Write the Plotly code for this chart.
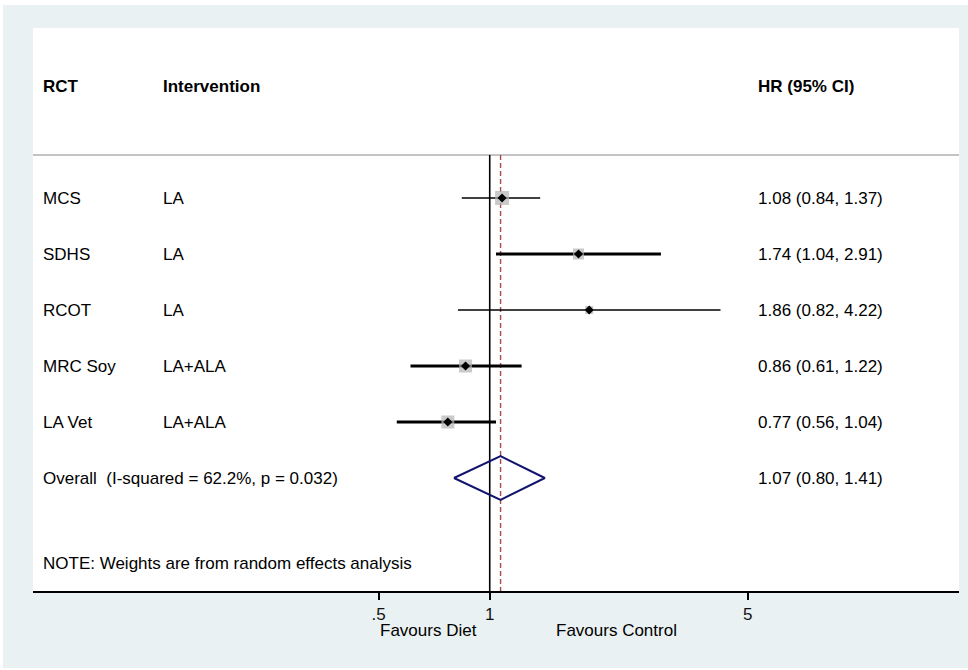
import plotly.graph_objects as go

# ---- study data -------------------------------------------------------
studies = ["MCS", "SDHS", "RCOT", "MRC Soy", "LA Vet"]
interventions = ["LA", "LA", "LA", "LA+ALA", "LA+ALA"]
hr = [1.08, 1.74, 1.86, 0.86, 0.77]
ci_lo = [0.84, 1.04, 0.82, 0.61, 0.56]
ci_hi = [1.37, 2.91, 4.22, 1.22, 1.04]

overall_label = "Overall\u00a0 (I-squared = 62.2%, p = 0.032)"
overall_hr = 1.07
overall_lo = 0.80
overall_hi = 1.41

note_text = "NOTE: Weights are from random effects analysis"
header_labels = ["RCT", "Intervention", "HR (95% CI)"]
tick_vals = [0.5, 1, 5]
tick_text = [".5", "1", "5"]
favour_labels = ["Favours Diet", "Favours Control"]

# ---- styling ----------------------------------------------------------
FONT = "Liberation Sans, Arial, Helvetica, sans-serif"
FS = 17
BG = "#eaf1f3"
box_px = [14, 11, 8, 13, 13]          # weight boxes (pixels)
ci_width = [1.6, 3.2, 1.6, 3.2, 3.2]   # CI line widths
NAVY = "#14146e"
DASH_COL = "#a64a4f"

# row positions (y is a row index, reversed axis)
rows = list(range(len(studies)))
overall_row = len(studies)
note_row = 6.52
header_row = -2.0
sep_row = -0.77
y_top, y_bottom = -3.036, 7.018

# column x positions in paper units
col_rct, col_int, col_hr = 0.0086, 0.1382, 0.7807

fig = go.Figure()

# confidence intervals
for i in rows:
    fig.add_trace(go.Scatter(
        x=[ci_lo[i], ci_hi[i]], y=[rows[i], rows[i]], mode="lines",
        line=dict(color="black", width=ci_width[i]),
        hoverinfo="skip", showlegend=False))

# weight boxes
fig.add_trace(go.Scatter(
    x=hr, y=rows, mode="markers",
    marker=dict(symbol="square", size=box_px, color="#b3b3b3", line=dict(width=0)),
    showlegend=False, hoverinfo="skip"))

# point estimates
fig.add_trace(go.Scatter(
    x=hr, y=rows, mode="markers",
    marker=dict(symbol="diamond", size=7, color="black"),
    showlegend=False, hoverinfo="skip"))

# pooled estimate diamond
half_h = 0.39
fig.add_trace(go.Scatter(
    x=[overall_lo, overall_hr, overall_hi, overall_hr, overall_lo],
    y=[overall_row, overall_row - half_h, overall_row, overall_row + half_h, overall_row],
    mode="lines", line=dict(color=NAVY, width=2),
    showlegend=False, hoverinfo="skip"))

shapes = [
    # header separator
    dict(type="line", xref="paper", yref="y", x0=0, x1=1, y0=sep_row, y1=sep_row,
         line=dict(color="#c4c4c4", width=2), layer="below"),
    # line of no effect
    dict(type="line", xref="x", yref="y", x0=1, x1=1, y0=sep_row, y1=y_bottom,
         line=dict(color="black", width=1.6), layer="below"),
    # pooled estimate reference
    dict(type="line", xref="x", yref="y", x0=overall_hr, x1=overall_hr,
         y0=sep_row, y1=y_bottom,
         line=dict(color=DASH_COL, width=1.4, dash="5px,3px"), layer="below"),
    # thin white frame at top/left/bottom edges
    dict(type="rect", xref="paper", yref="paper",
         x0=-33 / 926, x1=-30 / 926, y0=-79 / 563, y1=1 + 28 / 563,
         fillcolor="white", line=dict(width=0), layer="below"),
    dict(type="rect", xref="paper", yref="paper",
         x0=-33 / 926, x1=1 + 9 / 926, y0=1 + 23 / 563, y1=1 + 28 / 563,
         fillcolor="white", line=dict(width=0), layer="below"),
    dict(type="rect", xref="paper", yref="paper",
         x0=-33 / 926, x1=1 + 9 / 926, y0=-79 / 563, y1=-77 / 563,
         fillcolor="white", line=dict(width=0), layer="below"),
]

annotations = []

def txt(x, y, s, bold=False, yref="y", xanchor="left"):
    annotations.append(dict(
        x=x, y=y, xref="paper", yref=yref, text=f"<b>{s}</b>" if bold else s,
        showarrow=False, xanchor=xanchor, yanchor="middle",
        font=dict(family=FONT, size=FS, color="black")))

# headers
for xc, lab in zip([col_rct, col_int, col_hr], header_labels):
    txt(xc, header_row, lab, bold=True)

# study rows
for i in rows:
    txt(col_rct, rows[i], studies[i])
    txt(col_int, rows[i], interventions[i])
    txt(col_hr, rows[i], f"{hr[i]:.2f} ({ci_lo[i]:.2f}, {ci_hi[i]:.2f})")

txt(col_rct, overall_row, overall_label)
txt(col_hr, overall_row, f"{overall_hr:.2f} ({overall_lo:.2f}, {overall_hi:.2f})")
txt(col_rct, note_row, note_text)

# favours labels below the axis
txt(0.4276, -0.071, favour_labels[0], yref="paper", xanchor="center")
txt(0.6296, -0.071, favour_labels[1], yref="paper", xanchor="center")

fig.update_layout(
    width=968, height=670,
    margin=dict(l=33, r=9, t=28, b=79),
    paper_bgcolor=BG, plot_bgcolor="white",
    shapes=shapes, annotations=annotations,
    font=dict(family=FONT, size=FS, color="black"),
    xaxis=dict(
        type="log", range=[-1.2375, 1.2715],
        tickvals=tick_vals, ticktext=tick_text,
        ticks="outside", ticklen=7, tickwidth=1.5, tickcolor="black",
        showline=True, linecolor="black", linewidth=2,
        showgrid=False, zeroline=False,
        tickfont=dict(family=FONT, size=FS, color="#111"),
    ),
    yaxis=dict(range=[y_bottom, y_top], visible=False, showgrid=False, zeroline=False),
)

fig.write_html("out.html")
